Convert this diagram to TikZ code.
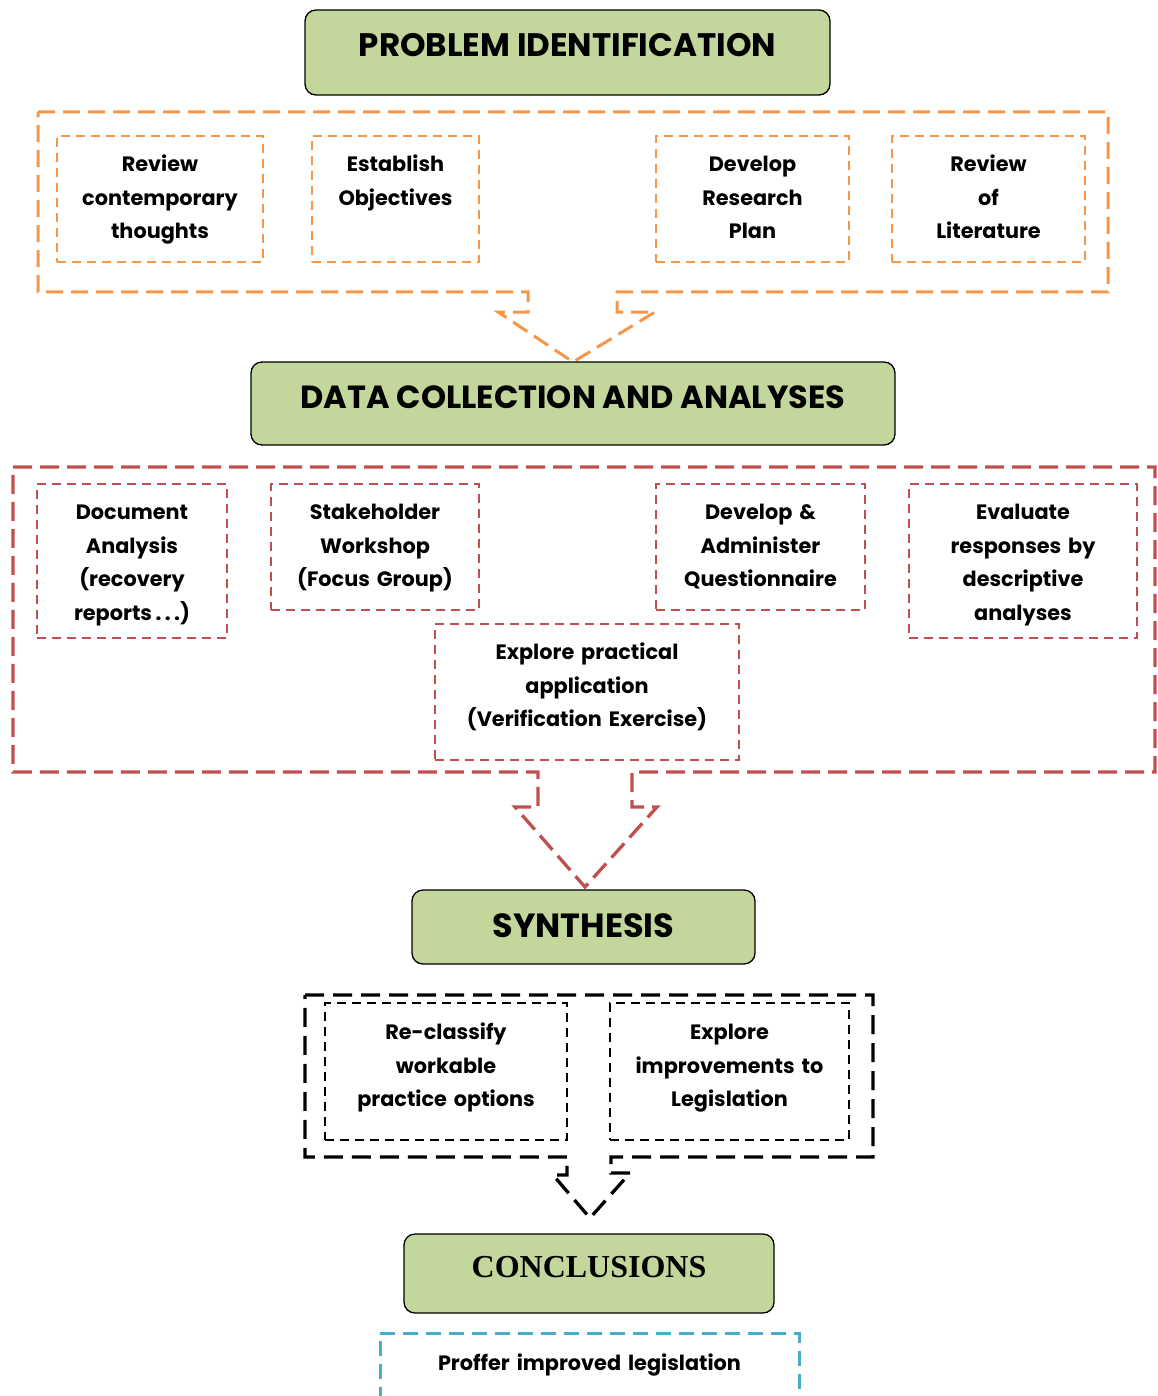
\documentclass[tikz,border=0pt]{standalone}
\usepackage{fontspec}
\setmainfont{Poppins}
\newfontfamily\serifhead{Liberation Serif}
\definecolor{stageGreen}{HTML}{C3D69B}
\definecolor{planOrange}{HTML}{F79646}
\definecolor{dataRed}{HTML}{C0504D}
\definecolor{endBlue}{HTML}{4BACC6}
\tikzset{
  stagebox/.style={draw=black, line width=1.3pt, fill=stageGreen, rounded corners=11pt,
    inner sep=0pt},
  stagetext/.style={inner sep=0pt, font=\bfseries\fontsize{32.5}{36}\selectfont},
  taskbox/.style={line width=2.3pt, dash pattern=on 9pt off 6pt, inner sep=0pt},
  obox/.style={taskbox, draw=planOrange},
  rbox/.style={taskbox, draw=dataRed},
  kbox/.style={taskbox, draw=black},
  tasktext/.style={inner sep=0pt, align=center, anchor=base,
    font=\bfseries\fontsize{20.8}{33.5}\selectfont},
  frameline/.style={line width=3pt, dash pattern=on 17pt off 8pt, line join=miter},
}
\begin{document}
\begin{tikzpicture}[x=1pt, y=-1pt]
\useasboundingbox (0,0) rectangle (1157,1396);
\clip (0,0) rectangle (1157,1396);

% ---------- stage 1: problem identification ----------
\node[stagebox, minimum width=525pt, minimum height=85pt] (g1) at (567.5,52.5) {};
\node[stagetext] (g1t) at (567.5,45) {PROBLEM IDENTIFICATION};

\draw[frameline, draw=planOrange]
  (38,112) -| (1108,292) -- (617,292) -- (617,312) -- (655,312) -- (573,362)
  -- (498,312) -- (528,312) -- (528,292) -- (38,292) -- cycle;

\node[obox, minimum width=206pt, minimum height=126pt] (o1) at (160,199) {};
\node[obox, minimum width=167pt, minimum height=126pt] (o2) at (395.5,199) {};
\node[obox, minimum width=193pt, minimum height=126pt] (o3) at (752.5,199) {};
\node[obox, minimum width=193pt, minimum height=126pt] (o4) at (988.5,199) {};
\node[tasktext, text width=206pt] (o1t) at ([yshift=-37pt]o1.north) {Review\\contemporary\\thoughts};
\node[tasktext, text width=167pt] (o2t) at ([yshift=-37pt]o2.north) {Establish\\Objectives};
\node[tasktext, text width=193pt] (o3t) at ([yshift=-37pt]o3.north) {Develop\\Research\\Plan};
\node[tasktext, text width=193pt] (o4t) at ([yshift=-37pt]o4.north) {Review\\of\\Literature};

% ---------- stage 2: data collection ----------
\node[stagebox, minimum width=644pt, minimum height=83pt] (g2) at (573,403.5) {};
\node[stagetext, font=\bfseries\fontsize{32}{36}\selectfont] (g2t) at (573,397) {DATA COLLECTION AND ANALYSES};

\draw[frameline, draw=dataRed, line width=3.3pt, dash pattern=on 19pt off 8pt]
  (13,467) -| (1155,772) -- (632,772) -- (632,807) -- (657,807) -- (585,887)
  -- (515,807) -- (538,807) -- (538,772) -- (13,772) -- cycle;

\node[rbox, minimum width=190pt, minimum height=154pt] (r1) at (132,561) {};
\node[rbox, minimum width=208pt, minimum height=126pt] (r2) at (375,547) {};
\node[rbox, minimum width=209pt, minimum height=126pt] (r3) at (760.5,547) {};
\node[rbox, minimum width=228pt, minimum height=154pt] (r4) at (1023,561) {};
\node[rbox, minimum width=304pt, minimum height=136pt] (r5) at (587,692) {};
\node[tasktext, text width=190pt] (r1t) at ([yshift=-37pt]r1.north) {Document\\Analysis\\(recovery\\reports\,.\,.\,.)};
\node[tasktext, text width=208pt] (r2t) at ([yshift=-37pt]r2.north) {Stakeholder\\Workshop\\(Focus Group)};
\node[tasktext, text width=209pt] (r3t) at ([yshift=-37pt]r3.north) {Develop \&\\Administer\\Questionnaire};
\node[tasktext, text width=228pt] (r4t) at ([yshift=-37pt]r4.north) {Evaluate\\responses by\\descriptive\\analyses};
\node[tasktext, text width=304pt] (r5t) at ([yshift=-37pt]r5.north) {Explore practical\\application\\(Verification Exercise)};

% ---------- stage 3: synthesis ----------
\node[stagebox, minimum width=343pt, minimum height=74pt] (g3) at (583.5,927) {};
\node[stagetext, font=\bfseries\fontsize{33.5}{36}\selectfont] (g3t) at (583.5,926) {SYNTHESIS};

\draw[frameline, draw=black, line width=3.3pt, dash pattern=on 19pt off 9pt]
  (305,995) -| (873,1157) -- (611,1157) -- (611,1173) -- (630,1173) -- (590,1218)
  -- (553,1175) -- (567,1175) -- (567,1157) -- (305,1157) -- cycle;

\node[kbox, minimum width=242pt, minimum height=137pt] (k1) at (446,1071.5) {};
\node[kbox, minimum width=239pt, minimum height=137pt] (k2) at (729.5,1071.5) {};
\node[tasktext, text width=242pt] (k1t) at ([yshift=-38pt]k1.north) {Re-classify\\workable\\practice options};
\node[tasktext, text width=239pt] (k2t) at ([yshift=-38pt]k2.north) {Explore\\improvements to\\Legislation};

% ---------- stage 4: conclusions ----------
\node[stagebox, minimum width=370pt, minimum height=79pt] (g4) at (589,1273.5) {};
\node[inner sep=0pt, font=\serifhead\bfseries\fontsize{32}{36}\selectfont] (g4t) at (589,1267) {CONCLUSIONS};

\node[taskbox, draw=endBlue, line width=3pt, dash pattern=on 15pt off 8pt,
  minimum width=419pt, minimum height=120pt] (b1) at (589.5,1393) {};
\node[tasktext, text width=419pt] (b1t) at ([yshift=-39pt]b1.north) {Proffer improved legislation};
\end{tikzpicture}
\end{document}
